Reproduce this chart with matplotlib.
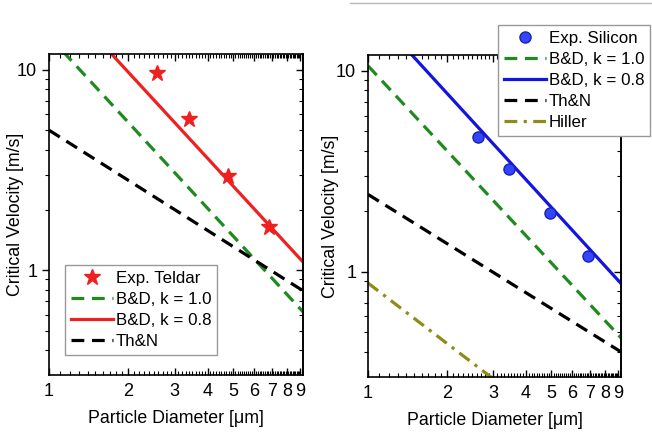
import matplotlib.pyplot as plt
import numpy as np
from matplotlib.lines import Line2D
from matplotlib.ticker import FixedLocator, NullFormatter

plt.rcParams['font.family'] = ['Liberation Sans', 'DejaVu Sans']
plt.rcParams['font.size'] = 12

# --- Teldar particles (left) ---
d_teldar = [2.56, 3.40, 4.76, 6.84]
v_teldar = [9.66, 5.69, 2.95, 1.64]

# model lines, given at the ends of the diameter range
d_ends = [1.0, 9.2]
v_bd10_teldar = [14.7, 0.62]
v_bd08_teldar = [26.2, 1.10]
v_thn_teldar = [5.0, 0.79]

# --- Silicon particles (right) ---
d_silicon = [2.63, 3.45, 4.95, 6.91]
v_silicon = [4.68, 3.24, 1.97, 1.20]

v_bd10_silicon = [10.6, 0.47]
v_bd08_silicon = [20.8, 0.876]
v_thn_silicon = [2.43, 0.40]
v_hiller = [0.88, 0.096]

x_ticks = [1, 2, 3, 4, 5, 6, 7, 8, 9]
y_minor = [0.4, 0.5, 0.6, 0.7, 0.8, 0.9, 2, 3, 4, 5, 6, 7, 8, 9]

RED = '#ee2020'
GREEN = '#1f8a1f'
BLUE = '#1414e0'
OLIVE = '#8c8c18'
LW = 2.3
DASH = (4, 2.4)

fig = plt.figure(figsize=(6.52, 4.37), dpi=100)
ax1 = fig.add_axes([49 / 652, 62 / 437, 254 / 652, 321 / 437])
ax2 = fig.add_axes([368 / 652, 60 / 437, 253 / 652, 322 / 437])


def style_axes(ax, ylab_x):
    ax.set_xscale('log')
    ax.set_yscale('log')
    ax.set_xlim(1, 9.2)
    ax.set_ylim(0.3, 12)
    ax.xaxis.set_major_locator(FixedLocator(x_ticks))
    ax.set_xticklabels([str(t) for t in x_ticks])
    ax.xaxis.set_minor_locator(FixedLocator(np.arange(1.1, 9.2, 0.1)))
    ax.xaxis.set_minor_formatter(NullFormatter())
    ax.yaxis.set_major_locator(FixedLocator([1, 10]))
    ax.set_yticklabels(['1', '10'])
    ax.yaxis.set_minor_locator(FixedLocator(y_minor))
    ax.yaxis.set_minor_formatter(NullFormatter())
    ax.tick_params(axis='x', which='both', direction='in', top=True, labelsize=13, pad=6)
    ax.tick_params(axis='x', which='major', length=5, width=1)
    ax.tick_params(axis='x', which='minor', length=3, width=0.8)
    ax.tick_params(axis='y', which='both', direction='out', right=False, labelsize=13)
    ax.tick_params(axis='y', which='major', length=5, width=1)
    ax.tick_params(axis='y', which='minor', length=3, width=0.8)
    # inward ticks on the right spine
    sec = ax.secondary_yaxis('right')
    sec.yaxis.set_major_locator(FixedLocator([1, 10]))
    sec.yaxis.set_minor_locator(FixedLocator(y_minor))
    sec.yaxis.set_major_formatter(NullFormatter())
    sec.yaxis.set_minor_formatter(NullFormatter())
    sec.tick_params(which='both', direction='in')
    sec.tick_params(which='major', length=5, width=1)
    sec.tick_params(which='minor', length=3, width=0.8)
    for s in ax.spines.values():
        s.set_linewidth(1.2)
    sec.spines['right'].set_linewidth(1.2)
    ax.set_xlabel('Particle Diameter [\u03bcm]', fontsize=12.8, labelpad=7)
    ax.set_ylabel('Critical Velocity [m/s]', fontsize=12.8)
    ax.yaxis.set_label_coords(ylab_x, 0.5)


leg_kw = dict(fontsize=12.2, handlelength=2.5, handletextpad=0.15,
              labelspacing=0.36, borderpad=0.35, borderaxespad=0,
              fancybox=False, edgecolor='#999999', framealpha=1)

# left panel
ax1.plot(d_ends, v_bd10_teldar, color=GREEN, lw=LW, dashes=DASH, label='B&D, k = 1.0')
ax1.plot(d_ends, v_bd08_teldar, color=RED, lw=LW, label='B&D, k = 0.8')
ax1.plot(d_ends, v_thn_teldar, color='black', lw=LW, dashes=DASH, label='Th&N')
ax1.plot(d_teldar, v_teldar, ls='none', marker='*', ms=12, color=RED,
         label='Exp. Teldar')
style_axes(ax1, -0.10)
h, l = ax1.get_legend_handles_labels()
order = [3, 0, 1, 2]
ax1.legend([h[i] for i in order], [l[i] for i in order],
           loc='lower left', bbox_to_anchor=(0.063, 0.062), **leg_kw)

# right panel
ax2.plot(d_ends, v_bd10_silicon, color=GREEN, lw=LW, dashes=DASH, label='B&D, k = 1.0')
ax2.plot(d_ends, v_bd08_silicon, color=BLUE, lw=LW, label='B&D, k = 0.8')
ax2.plot(d_ends, v_thn_silicon, color='black', lw=LW, dashes=DASH, label='Th&N')
ax2.plot(d_ends, v_hiller, color=OLIVE, lw=LW, dashes=(4, 2, 1, 2), label='Hiller')
ax2.plot(d_silicon, v_silicon, ls='none', marker='o', ms=8,
         markerfacecolor='#3346ff', markeredgecolor='#1a22a8', markeredgewidth=1,
         label='Exp. Silicon')
style_axes(ax2, -0.115)
h, l = ax2.get_legend_handles_labels()
order = [4, 0, 1, 2, 3]
leg = ax2.legend([h[i] for i in order], [l[i] for i in order],
                 loc='upper left', bbox_to_anchor=(498 / 652, 1 - 25 / 437),
                 bbox_transform=fig.transFigure, **leg_kw)
leg.set_zorder(10)

# thin grey rule along the top right
fig.add_artist(Line2D([350 / 652, 1], [1 - 3 / 437, 1 - 3 / 437],
                      transform=fig.transFigure, color='#b8b8b8', lw=1))

fig.savefig('out.png', dpi=100)
